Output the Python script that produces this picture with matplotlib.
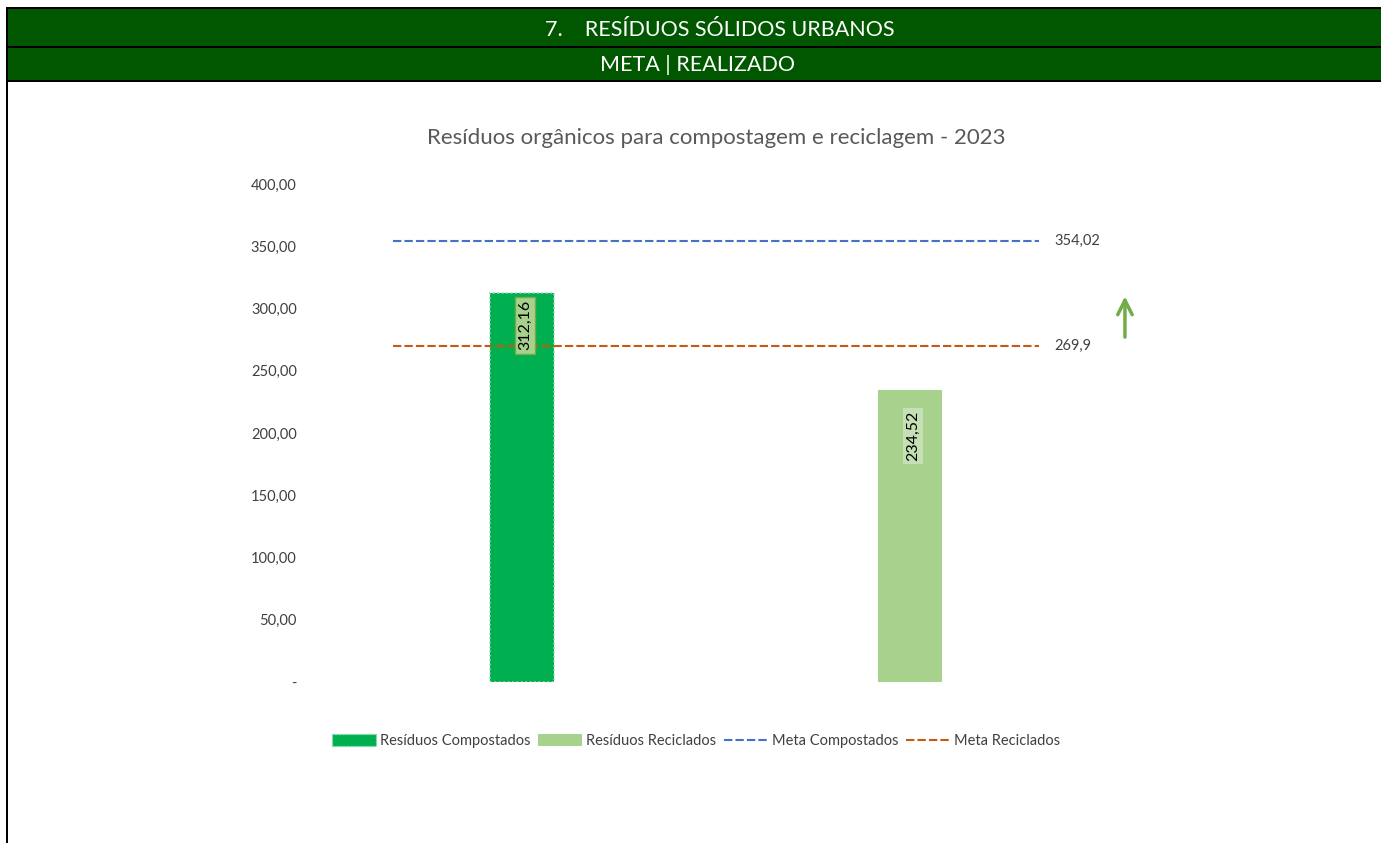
import matplotlib
matplotlib.use("Agg")
import matplotlib.pyplot as plt
from matplotlib.patches import Rectangle, Patch
from matplotlib.lines import Line2D
from matplotlib.ticker import FuncFormatter

plt.rcParams['font.family'] = ['Lato', 'DejaVu Sans']

# data
categorias = ['Resíduos Compostados', 'Resíduos Reciclados']
realizado = [312.16, 234.52]
meta_nomes = ['Meta Compostados', 'Meta Reciclados']
metas = [354.02, 269.9]
meta_rotulos = ['354,02', '269,9']
y_ticks = [0, 50, 100, 150, 200, 250, 300, 350, 400]

cores_barras = ['#00b050', '#a9d18e']
cores_metas = ['#4472c4', '#c55a11']
W, H = 1381, 843

fig = plt.figure(figsize=(W / 100, H / 100), dpi=100)
fig.patch.set_facecolor('white')


def px_rect(x0, y0, x1, y1, color):
    fig.add_artist(Rectangle((x0 / W, 1 - y1 / H), (x1 - x0) / W, (y1 - y0) / H,
                             transform=fig.transFigure, facecolor=color,
                             edgecolor='none', zorder=0))


# header bands
px_rect(6, 7, W, 82, 'black')
px_rect(8, 9, W, 46, '#005700')
px_rect(8, 48, W, 80, '#005700')
px_rect(6, 7, 8, H, 'black')
fig.text(720 / W, 1 - 30 / H, '7.    RESÍDUOS SÓLIDOS URBANOS', color='white',
         fontsize=15.5, ha='center', va='center')
fig.text(697 / W, 1 - 65 / H, 'META | REALIZADO', color='white',
         fontsize=15.5, ha='center', va='center')

ax = fig.add_axes([328 / W, 1 - 682 / H, 776 / W, 498 / H])
ax.set_xlim(-0.5, 1.5)
ax.set_ylim(0, 400)
for s in ax.spines.values():
    s.set_visible(False)
ax.set_xticks([])
ax.set_yticks(y_ticks)
ax.yaxis.set_major_formatter(FuncFormatter(
    lambda v, p: '-' if v == 0 else f'{v:.2f}'.replace('.', ',')))
ax.tick_params(axis='y', length=0, pad=22.5, labelsize=10.5, labelcolor='#404040')

x = [0, 1]
bars = ax.bar(x, realizado, width=0.1675, color=cores_barras, zorder=2)
bars[0].set_edgecolor('#8fdcae')
bars[0].set_linestyle(':')
bars[0].set_linewidth(1.2)

# meta lines
for m, c, r in zip(metas, cores_metas, meta_rotulos):
    ax.plot([-0.333, 1.333], [m, m], color=c, lw=1.5, dashes=(4, 1.5), zorder=3)
    ax.annotate(r, xy=(1.333, m), xytext=(11, 0), textcoords='offset points',
                ha='left', va='center', fontsize=10.5, color='#404040')

# data labels
offsets = [-32, -46]
box_fc = ['#a9d18e', '#c5e0b4']
box_ec = ['#70ad47', 'none']
for xi, v, off, fc, ec in zip(x, realizado, offsets, box_fc, box_ec):
    ax.annotate(f'{v:.2f}'.replace('.', ','), xy=(xi, v), xytext=(2, off * 0.72),
                textcoords='offset points', rotation=90, ha='center', va='center',
                fontsize=11.5, color='black', zorder=4,
                bbox=dict(boxstyle='square,pad=0.2', fc=fc, ec=ec, lw=1))

# green arrow
ax.annotate('', xy=(1.027, 0.78), xytext=(1.027, 0.687), xycoords='axes fraction',
            textcoords='axes fraction', annotation_clip=False,
            arrowprops=dict(arrowstyle='->', color='#70ad47', lw=2.5,
                            mutation_scale=26))

ax.set_title('Resíduos orgânicos para compostagem e reciclagem - 2023',
             fontsize=16, color='#595959', pad=29)

handles = [Patch(facecolor=cores_barras[0], edgecolor='#8fdcae', linestyle=':'),
           Patch(facecolor=cores_barras[1]),
           Line2D([], [], color=cores_metas[0], lw=1.5, dashes=(4, 1.5)),
           Line2D([], [], color=cores_metas[1], lw=1.5, dashes=(4, 1.5))]
fig.legend(handles, categorias + meta_nomes, loc='center',
           bbox_to_anchor=(696 / W, 1 - 741 / H), ncol=4, frameon=False,
           fontsize=10.5, labelcolor='#404040', handlelength=3.0,
           handleheight=0.8, handletextpad=0.3, columnspacing=0.5)

fig.savefig('out.png', dpi=100)
